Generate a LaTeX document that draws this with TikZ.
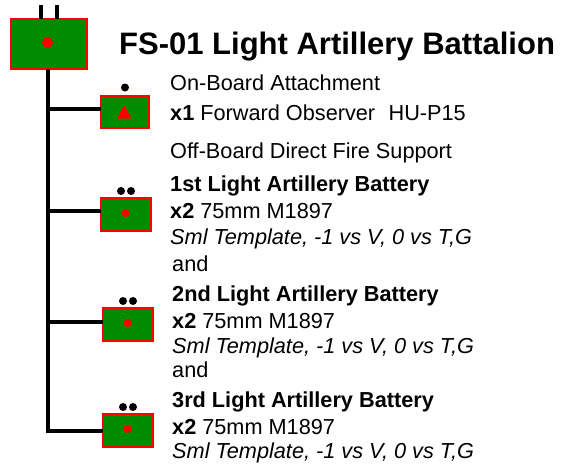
\documentclass[tikz,border=0pt]{standalone}
\usepackage{fontspec}
\setmainfont{Liberation Sans}
\usetikzlibrary{calc}
\definecolor{ugreen}{RGB}{0,140,0}
\tikzset{x=1pt,y=-1pt,
 unitbox/.style={draw=red,fill=ugreen,line width=2pt,inner sep=0pt,outer sep=0pt,anchor=north west},
 trunkline/.style={line width=3.4pt,black},
 reddot/.style={circle,fill=red,inner sep=0pt,minimum size=#1},
 blackdot/.style={circle,fill=black,inner sep=0pt,minimum size=#1},
 lbl/.style={anchor=base west,inner sep=0pt,font=\fontsize{21.7pt}{24pt}\selectfont},
 ttl/.style={anchor=base west,inner sep=0pt,font=\bfseries\fontsize{31pt}{34pt}\selectfont}}
\begin{document}
\begin{tikzpicture}
\useasboundingbox (0,0) rectangle (572,463);
% connectors
\coordinate (bot) at (48,431);
\coordinate (j0) at (48,109); \coordinate (j1) at (48,211); \coordinate (j2) at (48,322);
% headquarters
\node[unitbox,minimum width=76pt,minimum height=50pt] (hq) at (10.5,18.5) {};
\node[reddot=11pt] (hqd) at (47.5,42.5) {};
\coordinate (t1top) at (41,5); \coordinate (t2top) at (57,5);
\draw[line width=3.2pt] (t1top) -- (t1top |- hq.north);
\draw[line width=3.2pt] (t2top) -- (t2top |- hq.north);
% units
\node[unitbox,minimum width=48pt,minimum height=32pt] (u0) at (101,95.5) {};
\fill[red] (117,118.5) -- (124.3,105) -- (131.5,118.5) -- cycle;
\node[blackdot=8pt] (u0d) at (125,87.5) {};
\foreach \n/\x/\y in {u1/100.5/197.5,u2/102.5/307.5,u3/102.5/413.5}{
 \node[unitbox,minimum width=50pt,minimum height=33pt] (\n) at (\x,\y) {};
 \node[reddot=8pt] (\n r) at ($(\x,\y)+(25,15.5)$) {};
 \node[blackdot=8pt] (\n a) at ($(\x,\y)+(20.5,-6.5)$) {};
 \node[blackdot=8pt] (\n b) at ($(\x,\y)+(30.5,-6.5)$) {};
}
\draw[trunkline] (hq.south -| bot) -- (bot) -- (bot -| u3.west);
\draw[trunkline] (j0) -- (j0 -| u0.west);
\draw[trunkline] (j1) -- (j1 -| u1.west);
\draw[trunkline] (j2) -- (j2 -| u2.west);
% text
\node[ttl] (title) at (119,54.5) {FS-01 Light Artillery Battalion};
\node[lbl] (a1) at (170,90) {On-Board Attachment};
\node[lbl] (a2) at (170,120) {\textbf{x1} Forward Observer\hspace{0.62em}HU-P15};
\node[lbl] (a3) at (170,158) {Off-Board Direct Fire Support};
\node[lbl] (b1) at (170,191) {\textbf{1st Light Artillery Battery}};
\node[lbl] (b2) at (170,218) {\textbf{x2} 75mm M1897};
\node[lbl] (b3) at (170,244) {\textit{Sml Template, -1 vs V, 0 vs T,G}};
\node[lbl] (b4) at (172,271) {and};
\node[lbl] (c1) at (172,301) {\textbf{2nd Light Artillery Battery}};
\node[lbl] (c2) at (172,328) {\textbf{x2} 75mm M1897};
\node[lbl] (c3) at (172,353) {\textit{Sml Template, -1 vs V, 0 vs T,G}};
\node[lbl] (c4) at (172,377) {and};
\node[lbl] (d1) at (172,407) {\textbf{3rd Light Artillery Battery}};
\node[lbl] (d2) at (172,434) {\textbf{x2} 75mm M1897};
\node[lbl] (d3) at (172,458) {\textit{Sml Template, -1 vs V, 0 vs T,G}};
\end{tikzpicture}
\end{document}
